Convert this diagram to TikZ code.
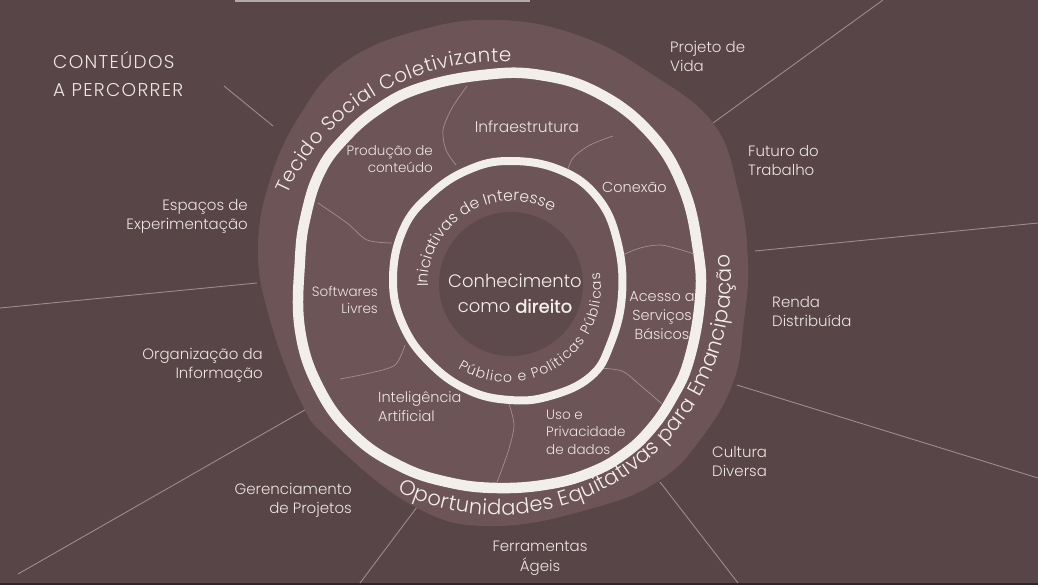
\documentclass[tikz,border=0pt]{standalone}
\usepackage{fontspec}
\setmainfont{Poppins}[UprightFont=* Light]
\newfontface\medfont{Poppins}[FakeBold=1]
\newfontfamily\capsfont{Poppins}[UprightFont=* Light, LetterSpace=7]
\usetikzlibrary{decorations.text}
\definecolor{bg}{HTML}{574547}
\definecolor{blob}{HTML}{6D5457}
\definecolor{disc}{HTML}{5E4A4D}
\definecolor{ring}{HTML}{F2EFE9}
\definecolor{txt}{HTML}{ECE5E1}
\definecolor{rule}{HTML}{9E8B8D}
\definecolor{vein}{HTML}{A48E90}
\definecolor{topbar}{HTML}{B5AAAA}
\begin{document}
\begin{tikzpicture}[x=1pt,y=-1pt,
  outlab/.style={text=txt, inner sep=0pt, font=\fontsize{15}{19.5}\selectfont},
  inlab/.style={text=txt, inner sep=0pt, font=\fontsize{14.5}{19}\selectfont},
  smalllab/.style={text=txt, inner sep=0pt, font=\fontsize{13.5}{17.3}\selectfont},
  divider/.style={draw=rule, line width=0.9pt},
  vein/.style={draw=vein, line width=0.7pt},
  arctext/.style={decorate, decoration={text along path, text align={fit to path}, text={#1}}}
]
\useasboundingbox (0,0) rectangle (1038,585);
\fill[bg] (0,0) rectangle (1038,585);
\fill[black!45!bg] (0,582.5) rectangle (1038,585);
\fill[topbar] (235,0) rectangle (530,2);

% radiating divider lines
\coordinate (d1a) at (224,86);   \coordinate (d1b) at (273,126);
\coordinate (d2a) at (713,123);  \coordinate (d2b) at (883,0);
\coordinate (d3a) at (755,251);  \coordinate (d3b) at (1038,223);
\coordinate (d4a) at (737,385);  \coordinate (d4b) at (1038,478);
\coordinate (d5a) at (660,482);  \coordinate (d5b) at (738,583);
\coordinate (d6a) at (417,507);  \coordinate (d6b) at (360,583);
\coordinate (d7a) at (310,407);  \coordinate (d7b) at (18,574);
\coordinate (d8a) at (257,283);  \coordinate (d8b) at (0,308);
\foreach \i in {1,...,8} {\draw[divider] (d\i a) -- (d\i b);}

% outer blob
\fill[blob] plot[smooth cycle, tension=0.7] coordinates {
 (500,20) (580,36) (650,73) (713,123) (738,190) (748,260) (744,320) (733,383)
 (700,440) (660,480) (597,507) (497,526) (417,508) (330,440) (300,400) (270,320)
 (258,250) (270,180) (300,115) (345,62) (420,30)};

% outer ring
\draw[ring, line width=10.5pt] plot[smooth cycle, tension=0.7] coordinates {
 (483,75) (540,75) (598,93) (650,133) (683,187) (698,250) (700,300) (689,360)
 (672,398) (650,430) (624,454) (592,472) (550,484) (497,488) (447,482) (400,466)
 (355,436) (320,390) (300,330) (300,260) (306,215) (320,172) (343,140) (377,110) (420,88)};

% veins between the rings
\draw[vein] plot[smooth] coordinates {(467,86) (452,108) (443,130) (446,150) (456,165)};
\draw[vein] plot[smooth] coordinates {(613,136) (590,145) (573,158) (566,175)};
\draw[vein] plot[smooth] coordinates {(618,257) (640,248) (660,245) (678,249) (694,254)};
\draw[vein] plot[smooth] coordinates {(598,368) (622,371) (640,385) (662,404)};
\draw[vein] plot[smooth] coordinates {(508,401) (514,425) (508,452) (497,482)};
\draw[vein] plot[smooth] coordinates {(405,345) (395,365) (370,373) (340,379)};
\draw[vein] plot[smooth] coordinates {(318,203) (347,223) (367,240) (392,243)};

% inner ring
\draw[ring, line width=8pt] plot[smooth cycle, tension=0.7] coordinates {
 (510,161) (560,170) (597,197) (617,240) (622,295) (610,345) (590,377) (550,396)
 (510,400) (468,390) (430,363) (403,325) (393,280) (403,230) (430,195) (468,170)};

% centre disc
\fill[disc] (511,284) circle[radius=72pt];

% curved texts
\path[arctext={|\fontsize{19.8}{19.8}\selectfont\color{ring}|Tecido Social Coletivizante}]
  (499,279) ++(-157:230 and 217) arc[start angle=-157, end angle=-87, x radius=230, y radius=217];
\path[arctext={|\fontsize{21}{21}\selectfont\color{ring}|Oportunidades Equitativas para Emancipação}]
  (499,279) ++(-244:232 and 236) arc[start angle=-244, end angle=-366, x radius=232, y radius=236];
\path[arctext={|\fontsize{15.6}{15.6}\selectfont\color{ring}|Iniciativas de Interesse}]
  (511,284) ++(-182:83) arc[start angle=-182, end angle=-60, radius=83];
\path[arctext={|\fontsize{14}{14}\selectfont\color{ring}|Público e Políticas Públicas}]
  (507,288) ++(-238.5:94) arc[start angle=-238.5, end angle=-369.5, radius=94];

% title
\node[anchor=north west, inner sep=0pt, text=txt, align=left,
  font=\capsfont\fontsize{18.5}{28.4}\selectfont] (title) at (53,51) {CONTEÚDOS\\A PERCORRER};

% outer labels
\node[outlab, anchor=north west, align=left] (proj) at (670,41) {Projeto de\\Vida};
\node[outlab, anchor=north west, align=left] (futuro) at (748,145) {Futuro do\\Trabalho};
\node[outlab, anchor=north west, align=left] (renda) at (772,296) {Renda\\Distribuída};
\node[outlab, anchor=north west, align=left] (cultura) at (712,446) {Cultura\\Diversa};
\node[outlab, anchor=north, align=center] (ferr) at (540,541) {Ferramentas\\Ágeis};
\node[outlab, anchor=north east, align=right] (geren) at (352,483) {Gerenciamento\\de Projetos};
\node[outlab, anchor=north east, align=right] (organ) at (263,348) {Organização da\\Informação};
\node[outlab, anchor=north east, align=right] (espac) at (248,199) {Espaços de\\Experimentação};

% inner labels
\node[inlab, anchor=north, font=\fontsize{15.5}{19}\selectfont] (infra) at (527,121) {Infraestrutura};
\node[smalllab, anchor=north east, align=right] (prod) at (433,145) {Produção de\\conteúdo};
\node[inlab, anchor=north west] (conexao) at (602,182) {Conexão};
\node[smalllab, anchor=north east, align=right] (soft) at (378,286) {Softwares\\Livres};
\node[inlab, anchor=north, align=center] (acesso) at (662,291) {Acesso a\\Serviços\\Básicos};
\node[inlab, anchor=north west, align=left] (intel) at (378,391) {Inteligência\\Artificial};
\node[smalllab, anchor=north west, align=left] (uso) at (546,410) {Uso e\\Privacidade\\de dados};

% centre text
\node[text=ring, inner sep=0pt, anchor=north, align=center,
  font=\fontsize{18}{25}\selectfont] (core) at (515,274) {Conhecimento\\como {\medfont direito}};
\end{tikzpicture}
\end{document}
